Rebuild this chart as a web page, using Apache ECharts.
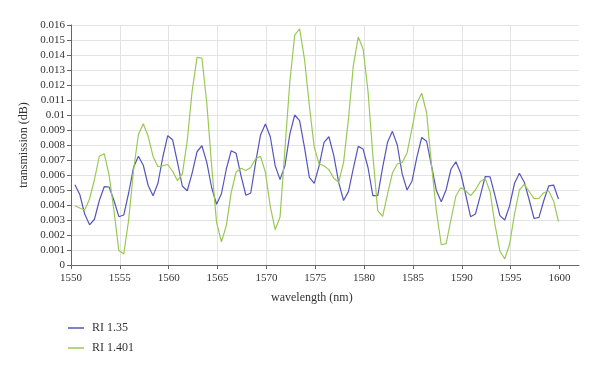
<!DOCTYPE html>
<html>
<head>
<meta charset="utf-8">
<script src="https://cdn.jsdelivr.net/npm/echarts@6/dist/echarts.min.js"></script>
<style>
html,body{margin:0;padding:0;background:#fff;}
#chart{width:600px;height:371px;}
</style>
</head>
<body>
<div id="chart"></div>
<script>
var wavelength = [
1550.4,1550.9,1551.4,1551.9,1552.4,1552.9,1553.4,1553.9,1554.4,1554.9,
1555.4,1555.9,1556.4,1556.9,1557.4,1557.9,1558.4,1558.9,1559.4,1559.9,
1560.4,1560.9,1561.4,1561.9,1562.4,1562.9,1563.4,1563.9,1564.4,1564.9,
1565.4,1565.9,1566.4,1566.9,1567.4,1567.9,1568.4,1568.9,1569.4,1569.9,
1570.4,1570.9,1571.4,1571.9,1572.4,1572.9,1573.4,1573.9,1574.4,1574.9,
1575.4,1575.9,1576.4,1576.9,1577.4,1577.9,1578.4,1578.9,1579.4,1579.9,
1580.4,1580.9,1581.4,1581.9,1582.4,1582.9,1583.4,1583.9,1584.4,1584.9,
1585.4,1585.9,1586.4,1586.9,1587.4,1587.9,1588.4,1588.9,1589.4,1589.9,
1590.4,1590.9,1591.4,1591.9,1592.4,1592.9,1593.4,1593.9,1594.4,1594.9,
1595.4,1595.9,1596.4,1596.9,1597.4,1597.9,1598.4,1598.9,1599.4,1599.9];

var ri135 = [
0.00535,0.0047,0.0034,0.00268,0.00305,0.0043,0.00522,0.0052,0.0043,0.00322,
0.00333,0.0048,0.0065,0.00725,0.00665,0.0053,0.00462,0.00545,0.0072,0.00862,
0.00835,0.00684,0.00525,0.00495,0.00613,0.00755,0.00795,0.00684,0.00515,0.00405,
0.00475,0.0064,0.00762,0.00745,0.00596,0.00465,0.0048,0.00684,0.00867,0.0094,
0.00855,0.00662,0.00569,0.00662,0.00873,0.01,0.00962,0.00784,0.00584,0.00544,
0.00662,0.00818,0.00855,0.00729,0.00551,0.0043,0.00489,0.00644,0.00791,0.00773,
0.0065,0.00462,0.00462,0.00651,0.00818,0.00891,0.008,0.00607,0.005,0.00558,
0.00718,0.0085,0.00825,0.00662,0.00496,0.00422,0.00502,0.0064,0.00688,0.0061,
0.0047,0.00322,0.0034,0.00462,0.0059,0.00588,0.00462,0.00329,0.003,0.00396,
0.00545,0.00612,0.00552,0.00435,0.0031,0.00318,0.0043,0.00527,0.00533,0.0044];

var ri1401 = [
0.00395,0.0038,0.00367,0.0044,0.0057,0.00725,0.00742,0.006,0.0036,0.00096,
0.00073,0.003,0.0063,0.0087,0.00942,0.00858,0.00724,0.00655,0.00662,0.0067,
0.00625,0.00562,0.00607,0.0083,0.0116,0.01384,0.0138,0.0108,0.0066,0.00284,
0.00155,0.00262,0.00484,0.0062,0.00645,0.0063,0.0065,0.0071,0.00724,0.00618,
0.0039,0.00235,0.0032,0.00773,0.0122,0.01533,0.01575,0.01373,0.01062,0.00784,
0.00673,0.00662,0.00636,0.00578,0.00551,0.00684,0.00973,0.01329,0.0152,0.0144,
0.0116,0.0073,0.00362,0.00324,0.00473,0.00613,0.00673,0.00684,0.00747,0.00907,
0.0108,0.01145,0.01015,0.0067,0.0036,0.00135,0.00142,0.00305,0.0046,0.00515,
0.00495,0.00462,0.005,0.00557,0.00576,0.00488,0.0027,0.00093,0.0004,0.0014,
0.0034,0.005,0.00538,0.0049,0.00442,0.00444,0.00482,0.00493,0.00427,0.0029];

var seriesNames = ['RI 1.35', 'RI 1.401'];
var xTicks = [1550,1555,1560,1565,1570,1575,1580,1585,1590,1595,1600];

function pairs(ys){ return wavelength.map(function(x,i){ return [x, ys[i]]; }); }

var font = "'Liberation Serif','DejaVu Serif',serif";
var chart = echarts.init(document.getElementById('chart'), null, {renderer:'canvas'});
chart.setOption({
  animation: false,
  backgroundColor: '#fff',
  grid: {left: 71, right: 21, top: 25, bottom: 106, containLabel: false},
  xAxis: {
    type: 'value', min: 1550, max: 1602, interval: 5,
    axisLine: {show: true, lineStyle: {color: '#666', width: 1}},
    axisTick: {show: true, length: 4, lineStyle: {color: '#666'}, customValues: xTicks},
    axisLabel: {color: '#333', fontFamily: font, fontSize: 11, margin: 8, customValues: xTicks,
      formatter: function(v){ return String(v); }},
    splitLine: {show: true, showMaxLine: false, lineStyle: {color: '#e3e3e3', width: 1}}
  },
  yAxis: {
    type: 'value', min: 0, max: 0.016, interval: 0.001,
    name: 'transmission (dB)', nameLocation: 'middle', nameGap: 38,
    nameTextStyle: {color: '#333', fontFamily: font, fontSize: 12},
    axisLine: {show: true, lineStyle: {color: '#666', width: 1}},
    axisTick: {show: true, length: 4, lineStyle: {color: '#666'}},
    axisLabel: {color: '#333', fontFamily: font, fontSize: 11, margin: 6},
    splitLine: {show: true, lineStyle: {color: '#e3e3e3', width: 1}}
  },
  legend: {
    orient: 'vertical', left: 68, top: 322, padding: 0, itemWidth: 16, itemHeight: 1.5, itemGap: 8,
    icon: 'rect',
    textStyle: {color: '#333', fontFamily: font, fontSize: 12, padding: [0,0,0,3]},
    data: seriesNames
  },
  graphic: [{
    type: 'text', left: 271, top: 292,
    style: {text: 'wavelength (nm)', fill: '#333', font: "12px 'Liberation Serif'"}
  }],
  series: [
    {name: seriesNames[0], type: 'line', data: pairs(ri135), symbol: 'none',
     lineStyle: {color: '#5555bb', width: 1.2}, itemStyle: {color: '#5555bb'}},
    {name: seriesNames[1], type: 'line', data: pairs(ri1401), symbol: 'none',
     lineStyle: {color: '#99c955', width: 1.2}, itemStyle: {color: '#99c955'}}
  ]
});
</script>
</body>
</html>
